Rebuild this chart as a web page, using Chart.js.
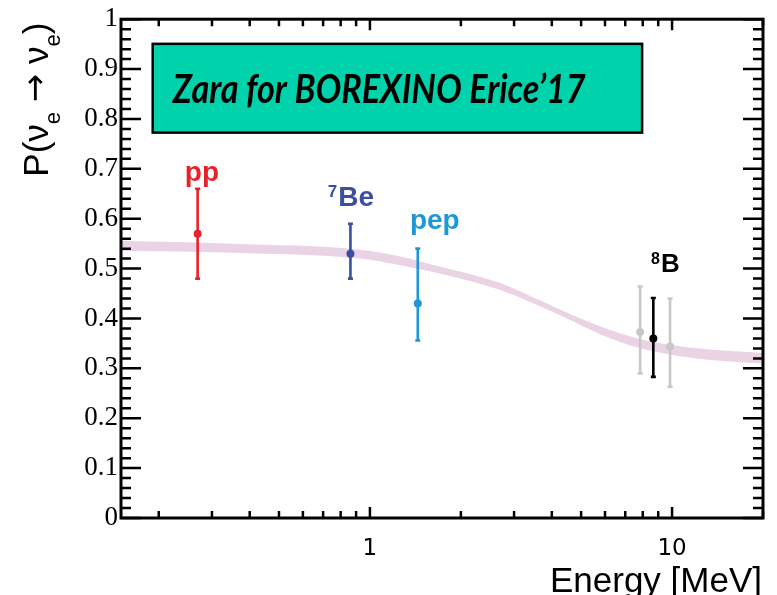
<!DOCTYPE html>
<html>
<head>
<meta charset="utf-8">
<script src="https://cdn.jsdelivr.net/npm/chart.js@4.4.1/dist/chart.umd.min.js"></script>
<style>
html, body { margin: 0; padding: 0; background: #fff; }
#wrap { width: 777px; height: 595px; }
</style>
</head>
<body>
<div id="wrap"><canvas id="chart" width="777" height="595"></canvas></div>
<script>
// Survival probability band
const bandEnergy = [0.15, 0.35, 0.93, 1.25, 1.7, 2.7, 3.6, 4.6, 5.8, 7.8, 11.4, 20];
const bandUpper  = [0.556, 0.550, 0.538, 0.525, 0.504, 0.471, 0.438, 0.409, 0.384, 0.359, 0.342, 0.331];
const bandLower  = [0.536, 0.532, 0.520, 0.507, 0.490, 0.457, 0.426, 0.397, 0.368, 0.341, 0.322, 0.309];

// Borexino measurements
const sources    = ['pp', '7Be', 'pep', '8B'];
const srcEnergy  = [0.269, 0.862, 1.44, 8.67];
const srcProb    = [0.57, 0.53, 0.43, 0.36];
const srcHi      = [0.66, 0.59, 0.54, 0.441];
const srcLo      = [0.48, 0.48, 0.356, 0.283];
const srcColors  = ['#e6232b', '#3b4ea0', '#1f97d6', '#000000'];

// grey 8B points
const greyEnergy = [7.84, 9.85];
const greyProb   = [0.373, 0.344];
const greyHi     = [0.464, 0.44];
const greyLo     = [0.29, 0.263];

// label anchors (energy, prob of baseline)
const labelEnergy = [0.278, 0.865, 1.64, 9.5];
const labelProb   = [0.676, 0.626, 0.58, 0.494];
const labelText   = ['pp', 'Be', 'pep', 'B'];
const labelSup    = ['', '7', '', '8'];

// axis ticks
const xTickLabels = [1, 10];
const xMinorTicks = [0.2, 0.3, 0.4, 0.5, 0.6, 0.7, 0.8, 0.9, 2, 3, 4, 5, 6, 7, 8, 9, 20];
const yMajorStep = 0.1;
const yMinorStep = 0.02;

// title box (energy / prob corners)
const boxCorners = { x0: 0.191, x1: 7.96, y0: 0.7726, y1: 0.9506 };
const boxText = 'Zara for BOREXINO Erice\u201917';

function errorBar(ctx, xs, ys, x, lo, hi, color) {
  const px = xs.getPixelForValue(x);
  const yl = ys.getPixelForValue(lo);
  const yh = ys.getPixelForValue(hi);
  ctx.strokeStyle = color;
  ctx.lineWidth = 2.6;
  ctx.beginPath();
  ctx.moveTo(px, yl); ctx.lineTo(px, yh);
  ctx.moveTo(px - 2.5, yl); ctx.lineTo(px + 2.5, yl);
  ctx.moveTo(px - 2.5, yh); ctx.lineTo(px + 2.5, yh);
  ctx.stroke();
}

function sourceLabel(ctx, text, sup, cx, baseline, color, size) {
  const mainFont = 'bold ' + size + 'px "Liberation Sans", Arial, sans-serif';
  const supFont = 'bold ' + Math.round(size * 0.6) + 'px "Liberation Sans", Arial, sans-serif';
  ctx.font = mainFont;
  const wMain = ctx.measureText(text).width;
  ctx.font = supFont;
  const wSup = sup ? ctx.measureText(sup).width + 1 : 0;
  let x = cx - (wMain + wSup) / 2;
  ctx.fillStyle = color;
  ctx.textAlign = 'left';
  ctx.textBaseline = 'alphabetic';
  if (sup) {
    ctx.fillText(sup, x, baseline - size * 0.3);
    x += wSup;
  }
  ctx.font = mainFont;
  ctx.fillText(text, x, baseline);
}

const decorations = {
  id: 'decorations',
  beforeDatasetDraw(chart, args) {
    // error bars go on top of the band, under the markers
    if (args.index !== 2) return;
    const ctx = chart.ctx;
    const xs = chart.scales.x, ys = chart.scales.y;
    ctx.save();
    greyEnergy.forEach((e, i) => errorBar(ctx, xs, ys, e, greyLo[i], greyHi[i], '#c8c8c8'));
    srcEnergy.forEach((e, i) => errorBar(ctx, xs, ys, e, srcLo[i], srcHi[i], srcColors[i]));
    ctx.restore();
  },
  afterDraw(chart) {
    const ctx = chart.ctx;
    const xs = chart.scales.x, ys = chart.scales.y;
    const a = chart.chartArea;
    ctx.save();

    // ticks, inside the frame
    ctx.strokeStyle = '#000';
    ctx.lineWidth = 2.5;
    ctx.beginPath();
    for (let v = 0; v <= 1.0001; v += yMinorStep) {
      const py = ys.getPixelForValue(v);
      const major = Math.abs(v / yMajorStep - Math.round(v / yMajorStep)) < 1e-6;
      const len = major ? 20 : 10;
      ctx.moveTo(a.left, py); ctx.lineTo(a.left + len, py);
      ctx.moveTo(a.right, py); ctx.lineTo(a.right - len, py);
    }
    xTickLabels.forEach(v => {
      const px = xs.getPixelForValue(v);
      ctx.moveTo(px, a.bottom); ctx.lineTo(px, a.bottom - 11);
      ctx.moveTo(px, a.top); ctx.lineTo(px, a.top + 11);
    });
    xMinorTicks.forEach(v => {
      const px = xs.getPixelForValue(v);
      ctx.moveTo(px, a.bottom); ctx.lineTo(px, a.bottom - 7);
      ctx.moveTo(px, a.top); ctx.lineTo(px, a.top + 7);
    });
    ctx.stroke();

    // frame
    ctx.lineWidth = 3;
    ctx.strokeRect(a.left, a.top, a.right - a.left, a.bottom - a.top);

    // title box
    const bx0 = xs.getPixelForValue(boxCorners.x0);
    const bx1 = xs.getPixelForValue(boxCorners.x1);
    const by0 = ys.getPixelForValue(boxCorners.y1);
    const by1 = ys.getPixelForValue(boxCorners.y0);
    ctx.fillStyle = '#00d2ac';
    ctx.fillRect(bx0, by0, bx1 - bx0, by1 - by0);
    ctx.lineWidth = 2.5;
    ctx.strokeRect(bx0, by0, bx1 - bx0, by1 - by0);
    ctx.font = 'italic bold 41px Lato, "DejaVu Sans", sans-serif';
    ctx.fillStyle = '#000';
    ctx.textAlign = 'left';
    ctx.textBaseline = 'alphabetic';
    const tw = ctx.measureText(boxText).width;
    const sx = 413 / tw;
    ctx.save();
    ctx.translate(bx0 + 20, by0 + 59);
    ctx.scale(sx, 1);
    ctx.fillText(boxText, 0, 0);
    ctx.restore();

    // source labels
    labelText.forEach((t, i) => {
      sourceLabel(ctx, t, labelSup[i], xs.getPixelForValue(labelEnergy[i]),
        ys.getPixelForValue(labelProb[i]), srcColors[i], i === 3 ? 26 : 28);
    });

    // x axis title
    ctx.font = '35px "Liberation Sans", Arial, sans-serif';
    ctx.fillStyle = '#000';
    ctx.textAlign = 'right';
    ctx.fillText('Energy [MeV]', a.right - 1, chart.height - 3);

    // y axis title with subscripts
    const big = '35px "Liberation Sans", Arial, sans-serif';
    const small = '22px "Liberation Sans", Arial, sans-serif';
    const arrow = '34px "DejaVu Sans", sans-serif';
    const parts = [['P(', big, 0], ['\u03bd', big, 0], ['e', small, 12], [' ', big, 0], ['\u2192', arrow, -2],
                   [' ', big, 0], ['\u03bd', big, 0], ['e', small, 12], [')', big, 0]];
    let total = 0;
    parts.forEach(p => { ctx.font = p[1]; total += ctx.measureText(p[0]).width; });
    ctx.save();
    ctx.translate(48, (a.top + 180) / 2);
    ctx.rotate(-Math.PI / 2);
    ctx.textAlign = 'left';
    let x = -total / 2;
    parts.forEach(p => {
      ctx.font = p[1];
      ctx.fillText(p[0], x, p[2]);
      x += ctx.measureText(p[0]).width;
    });
    ctx.restore();

    ctx.restore();
  }
};

const ctx = document.getElementById('chart').getContext('2d');
new Chart(ctx, {
  type: 'scatter',
  data: {
    datasets: [
      {
        type: 'line',
        order: 10,
        data: bandEnergy.map((e, i) => ({ x: e, y: bandUpper[i] })),
        borderColor: 'rgba(0,0,0,0)',
        borderWidth: 0,
        pointRadius: 0,
        cubicInterpolationMode: 'monotone',
        fill: false
      },
      {
        type: 'line',
        order: 10,
        data: bandEnergy.map((e, i) => ({ x: e, y: bandLower[i] })),
        borderColor: 'rgba(0,0,0,0)',
        borderWidth: 0,
        pointRadius: 0,
        cubicInterpolationMode: 'monotone',
        backgroundColor: '#ebd3e6',
        fill: '-1'
      },
      {
        order: 2,
        data: greyEnergy.map((e, i) => ({ x: e, y: greyProb[i] })),
        pointRadius: 4,
        pointBackgroundColor: '#c8c8c8',
        pointBorderWidth: 0
      },
      {
        order: 1,
        data: srcEnergy.map((e, i) => ({ x: e, y: srcProb[i] })),
        pointRadius: 4,
        pointBackgroundColor: srcColors,
        pointBorderWidth: 0
      }
    ]
  },
  options: {
    responsive: false,
    animation: false,
    layout: { padding: { top: 18, right: 14, left: 0, bottom: 0 } },
    plugins: { legend: { display: false }, tooltip: { enabled: false } },
    scales: {
      x: {
        type: 'logarithmic',
        min: 0.15,
        max: 20,
        afterBuildTicks: s => { s.ticks = xTickLabels.map(v => ({ value: v })); },
        ticks: {
          callback: v => String(v),
          font: { family: 'DejaVu Sans', size: 23 },
          color: '#000',
          padding: 17,
          maxRotation: 0,
          autoSkip: false
        },
        grid: { display: false, drawTicks: false },
        border: { display: false },
        afterFit: s => { s.height = 77; }
      },
      y: {
        min: 0,
        max: 1,
        ticks: {
          stepSize: yMajorStep,
          callback: v => String(Number(v.toFixed(1))),
          font: { family: 'Liberation Serif', size: 27 },
          color: '#000',
          padding: 3
        },
        grid: { display: false, drawTicks: false },
        border: { display: false },
        afterFit: s => { s.width = 121; }
      }
    }
  },
  plugins: [decorations]
});
</script>
</body>
</html>
